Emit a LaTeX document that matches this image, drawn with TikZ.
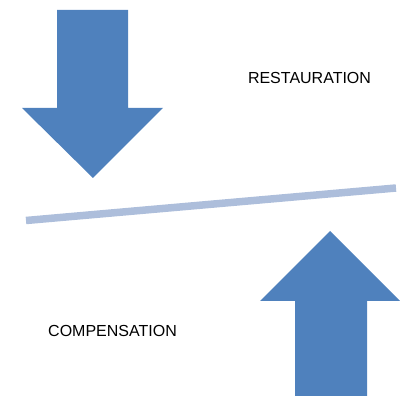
\documentclass[tikz,border=0pt]{standalone}
\usepackage{fontspec}
\setmainfont{Liberation Sans}
\definecolor{arrowblue}{RGB}{79,129,189}
\definecolor{barblue}{RGB}{173,190,219}
\begin{document}
\begin{tikzpicture}[x=1pt,y=-1pt,
  bigarrow/.style={fill=arrowblue,draw=none},
  lbl/.style={font=\fontsize{16}{19}\selectfont,inner sep=0pt,anchor=center}]
\useasboundingbox (0,0) rectangle (400,396);
% down arrow
\fill[bigarrow] (57,10) -- (128,10) -- (128,108) -- (163,108) -- (93,178) -- (22,108) -- (57,108) -- cycle;
% up arrow
\fill[bigarrow] (295,400) -- (367,400) -- (367,301) -- (400,301) -- (330,231) -- (260,301) -- (295,301) -- cycle;
% bar
\coordinate (barL) at (26,220.5);
\coordinate (barR) at (396,188);
\draw[barblue,line width=7.5pt] (barL) -- (barR);
\node[lbl] (rest) at (309.5,78) {RESTAURATION};
\node[lbl] (comp) at (112.5,331) {COMPENSATION};
\end{tikzpicture}
\end{document}
